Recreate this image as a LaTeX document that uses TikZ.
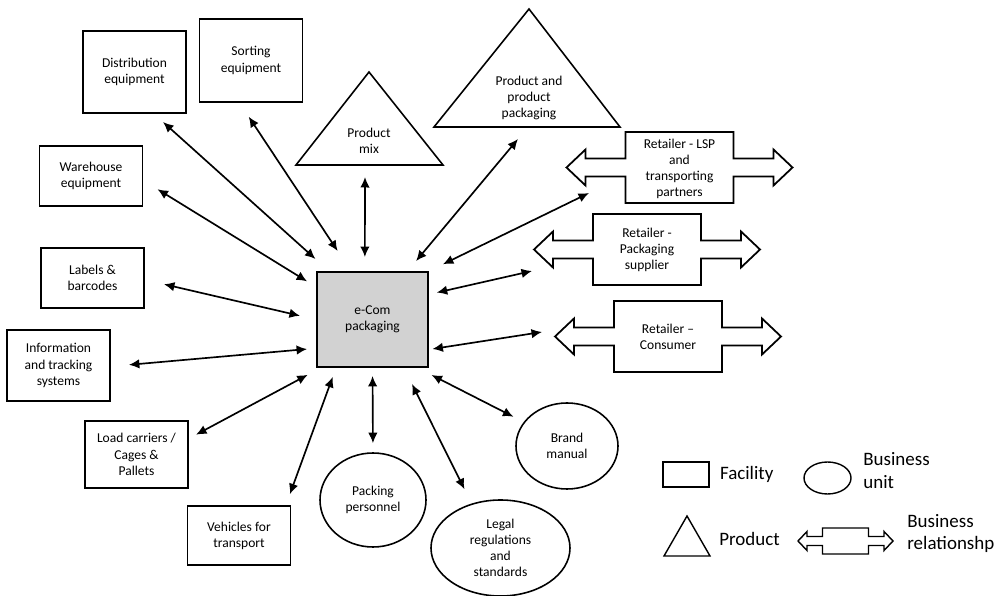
\documentclass[tikz,border=0pt]{standalone}
\usepackage{fontspec}
\setmainfont{Carlito}
\usetikzlibrary{arrows.meta,shapes.geometric,positioning}

\definecolor{ecomfill}{RGB}{210,210,210}

% outline of a business relationship (double arrow with a box)
\tikzset{
  bizrel/.pic={
    \draw[relline] (-113,0) -- (-94,-18) -- (-94,-9) -- (-54,-9) -- (-54,-35.5)
      -- (54,-35.5) -- (54,-9) -- (94,-9) -- (94,-18) -- (113,0) -- (94,18)
      -- (94,9) -- (54,9) -- (54,35.5) -- (-54,35.5) -- (-54,9) -- (-94,9)
      -- (-94,18) -- cycle;
  }
}

\begin{document}
\begin{tikzpicture}%
  [x=0.2mm, y=-0.2mm,
   >={Latex[length=2.1mm,width=1.9mm]},
   every node/.style={font=\fontsize{7.7}{9.2}\selectfont, align=center},
   facility/.style={draw, line width=1.1pt, inner sep=0pt, minimum width=20.6mm},
   hub/.style={facility, fill=ecomfill, minimum width=22.2mm, minimum height=19mm},
   unit/.style={ellipse, draw, line width=0.9pt, inner sep=0pt},
   product/.style={line width=0.9pt},
   relline/.style={line width=1pt},
   conn/.style={<->, line width=0.95pt},
   legtext/.style={font=\fontsize{10.8}{13}\selectfont, align=left, inner sep=0pt}
  ]
\useasboundingbox (0,0) rectangle (1003,596);

% facilities
\node[facility, minimum height=16.4mm] (dist)  at (134.5,72)   {Distribution\\equipment};
\node[facility, minimum height=16.6mm] (sort)  at (251,60.5)   {Sorting\\equipment};
\node[facility, minimum height=12mm]   (ware)  at (91,176)     {Warehouse\\equipment};
\node[facility, minimum height=12mm]   (label) at (92.5,278)   {Labels \&\\barcodes};
\node[facility, minimum height=14.2mm] (info)  at (58.5,365.5) {Information\\and tracking\\systems};
\node[facility, minimum height=13.4mm] (load)  at (136.5,454.5){Load carriers /\\Cages \&\\Pallets};
\node[facility, minimum height=11.8mm] (veh)   at (239,535.5)  {Vehicles for\\transport};

\node[hub] (ecom) at (372.5,319.5) {e-Com\\packaging};

% products
\draw[product] (296,165) -- (369,72) -- (443,165) -- cycle;
\node (mix) at (369,141) {Product\\mix};
\draw[product] (434,127) -- (529,9) -- (620,127) -- cycle;
\node (pp) at (529,98) {Product and\\product\\packaging};

% business units
\node[unit, minimum width=21.2mm, minimum height=18.8mm] (pers)  at (373,500)   {Packing\\personnel};
\node[unit, minimum width=27.8mm, minimum height=19.2mm] (legal) at (500.5,548) {Legal\\regulations\\and\\standards};
\node[unit, minimum width=20.4mm, minimum height=17.2mm] (brand) at (567,446)   {Brand\\manual};

% business relationships
\pic at (679.5,167.5) {bizrel};
\node (lsp) at (679.5,169) {Retailer - LSP\\and\\transporting\\partners};
\pic at (647,249.5) {bizrel};
\node (sup) at (647,250) {Retailer -\\Packaging\\supplier};
\pic at (668,336.5) {bizrel};
\node (con) at (668,337) {Retailer --\\Consumer};

% free ends of the connectors
\coordinate (mix-in) at (365,177);
\coordinate (pp-in)  at (518,139);
\coordinate (lsp-in) at (589,193);
\coordinate (sup-in) at (532,271);
\coordinate (con-in) at (542,332);

\path[conn]
%  FROM               SHORTEN                                TO
  (ecom.132)        edge[shorten <=3.6mm,  shorten >=2.4mm]  (dist.295)
  (ecom.114)        edge[shorten <=4.8mm,  shorten >=3.3mm]  (sort.255)
  (ecom.150)        edge[shorten <=2.1mm,  shorten >=3.3mm]  (ware.355)
  (ecom.180)        edge[shorten <=3.3mm,  shorten >=3.9mm]  (label.358)
  (ecom.207)        edge[shorten <=1.8mm,  shorten >=3.6mm]  (info.359)
  (ecom.223)        edge[shorten <=2.9mm,  shorten >=1.6mm]  (load.17)
  (ecom.233)        edge[shorten <=1.9mm,  shorten >=2.3mm]  (veh.33)
  (ecom.99)         edge[shorten <=2.8mm]                    (mix-in)
  (ecom.54)         edge[shorten <=2.6mm]                    (pp-in)
  (ecom.north east) edge[shorten <=3.1mm]                    (lsp-in)
  (ecom.24)         edge[shorten <=1.6mm]                    (sup-in)
  (ecom.332)        edge[shorten <=0.7mm]                    (con-in)
  (ecom.south)      edge[shorten <=1.6mm,  shorten >=1.8mm]  (pers.north)
  (ecom.303)        edge[shorten <=3.6mm,  shorten >=3.2mm]  (legal.123)
  (ecom.313)        edge[shorten <=3.1mm,  shorten >=2.3mm]  (brand.151)
  ;

% legend
\node[facility, line width=0.8pt, minimum width=9.2mm, minimum height=5mm] (legfac) at (686,474.5) {};
\node[legtext, right=2mm of legfac] (legfactext) {Facility};
\node[unit, line width=0.8pt, minimum width=9.4mm, minimum height=6.4mm] (legunit) at (827.5,478) {};
\node[legtext, anchor=west] (legunittext) at (863,470.5) {Business\\unit};
\draw[product, line width=0.8pt] (664,556) -- (687,516) -- (710,556) -- cycle;
\node[legtext, anchor=west] (legprodtext) at (719,539) {Product};
\draw[relline, line width=0.8pt, shift={(845.5,541)}]
  (-47.5,0) -- (-38.5,-9.5) -- (-38.5,-4.5) -- (-23,-4.5) -- (-23,-13) -- (23,-13)
  -- (23,-4.5) -- (38.5,-4.5) -- (38.5,-9.5) -- (47.5,0) -- (38.5,9.5) -- (38.5,4.5)
  -- (23,4.5) -- (23,13) -- (-23,13) -- (-23,4.5) -- (-38.5,4.5) -- (-38.5,9.5) -- cycle;
\node[legtext, anchor=west] (legreltext) at (907,533.5) {Business\\relationshp};
\end{tikzpicture}
\end{document}
